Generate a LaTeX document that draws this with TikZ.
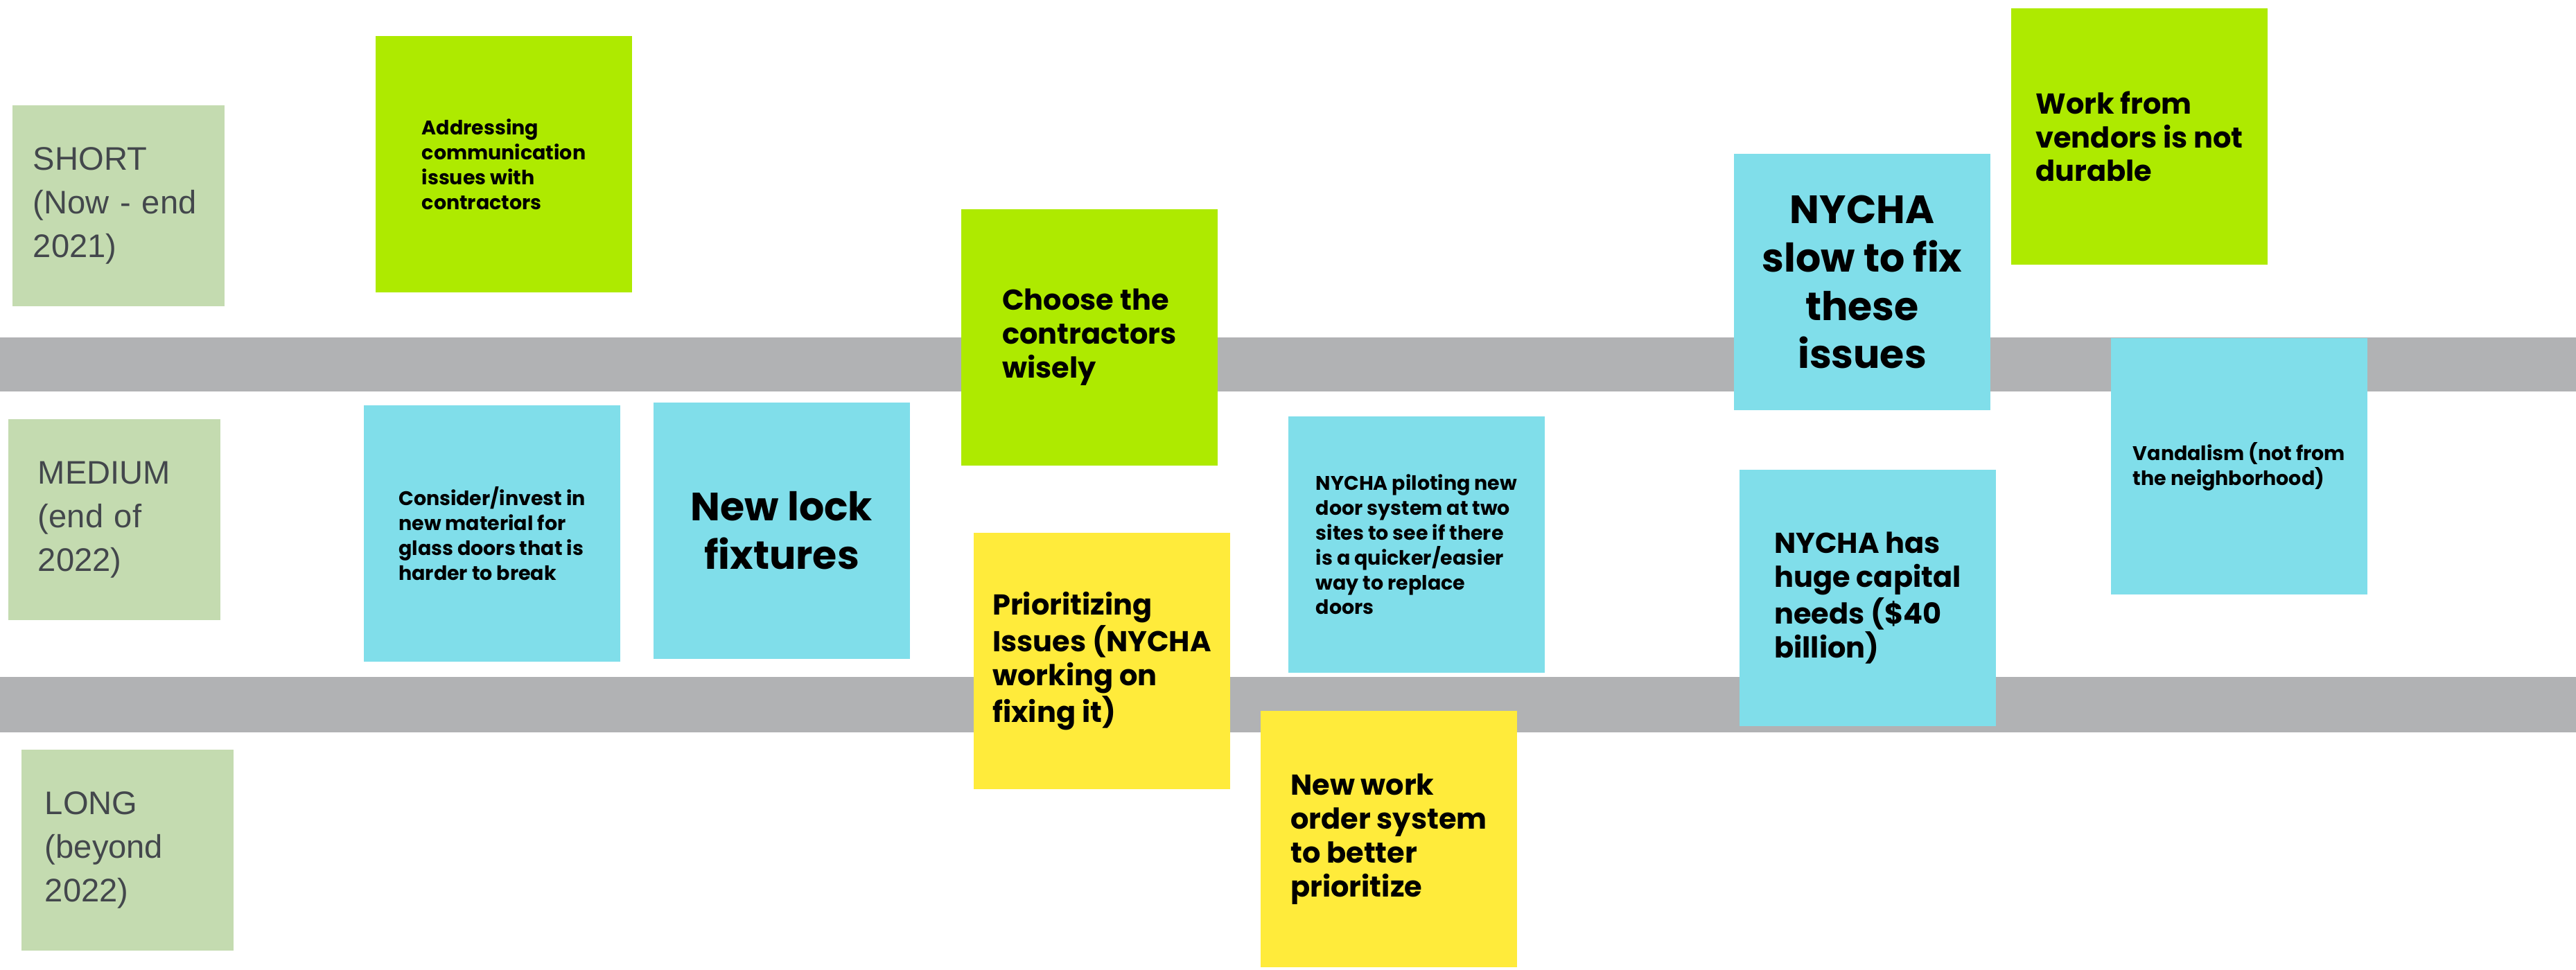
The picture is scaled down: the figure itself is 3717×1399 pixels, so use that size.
\documentclass[tikz,border=0pt]{standalone}
\usepackage{fontspec}
\usepackage{tikz}
\usetikzlibrary{positioning}
\setmainfont{Liberation Sans}
\newfontfamily\notefont{Poppins}
\definecolor{bandgray}{HTML}{B1B2B4}
\definecolor{periodgreen}{HTML}{C4DBB0}
\definecolor{periodtext}{HTML}{43474C}
\definecolor{notelime}{HTML}{AEEA00}
\definecolor{noteblue}{HTML}{80DEEA}
\definecolor{noteyellow}{HTML}{FFEB3B}
\newcommand{\periodfont}{\fontsize{13.4}{17.9}\selectfont}
\newcommand{\notesmall}{\notefont\bfseries\fontsize{8.1}{10.2}\selectfont}
\newcommand{\notemid}{\notefont\bfseries\fontsize{11.8}{13.9}\selectfont}
\newcommand{\notebig}{\notefont\bfseries\fontsize{16.2}{19.9}\selectfont}

\begin{document}
\begin{tikzpicture}[x=0.01cm,y=-0.01cm,
  period/.style={rectangle, fill=periodgreen, text=periodtext, font=\periodfont,
    minimum width=3.06cm, minimum height=2.9cm, align=left},
  note/.style={rectangle, minimum width=3.7cm, minimum height=3.7cm, inner sep=0pt, align=left}]
\useasboundingbox (0,0) rectangle (3717,1399);
%----------------------------------
\fill[bandgray] (0,487) rectangle (3717,565); % short/medium
\fill[bandgray] (0,977) rectangle (3717,1057); % medium/long
%----------------------------------
\node[period, inner xsep=0.30cm, text width=2.46cm] (short) at (171,297) {SHORT\\(Now - end\\2021)};
\node[period, inner xsep=0.43cm, text width=2.20cm] (medium) at (165,750) {MEDIUM\\(end of\\2022)};
\node[period, inner xsep=0.34cm, text width=2.38cm] (long) at (184,1227) {LONG\\(beyond\\2022)};
%----------------------------------
\node[note, fill=notelime, font=\notesmall] (addr) at (727,237) {Addressing\\communication\\issues with\\contractors};
\node[note, fill=noteblue, font=\notesmall] (glass) at (710,770) {Consider/invest in\\new material for\\glass doors that is\\harder to break};
\node[note, fill=noteblue, font=\notebig, align=center] (lock) at (1128,766) {New lock\\fixtures};
%----------------------------------
\node[note, fill=notelime, font=\notemid] (choose) at (1572,487) {Choose the\\contractors\\wisely};
\node[note, fill=noteyellow, font=\notemid] (prio) at (1590,954) {Prioritizing\\Issues (NYCHA\\working on\\fixing it)};
\node[note, fill=noteblue, font=\notesmall] (pilot) at (2044,786) {NYCHA piloting new\\door system at two\\sites to see if there\\is a quicker/easier\\way to replace\\doors};
\node[note, fill=noteyellow, font=\notemid] (order) at (2004,1211) {New work\\order system\\to better\\prioritize};
%----------------------------------
\node[note, fill=noteblue, font=\notebig, align=center] (slow) at (2687,407) {NYCHA\\slow to fix\\these\\issues};
\node[note, fill=notelime, font=\notemid] (vendor) at (3087,197) {Work from\\vendors is not\\durable};
\node[note, fill=noteblue, font=\notemid] (capital) at (2695,863) {NYCHA has\\huge capital\\needs (\$40\\billion)};
\node[note, fill=noteblue, font=\notesmall] (vandal) at (3231,673) {Vandalism (not from\\the neighborhood)};
\end{tikzpicture}
\end{document}
